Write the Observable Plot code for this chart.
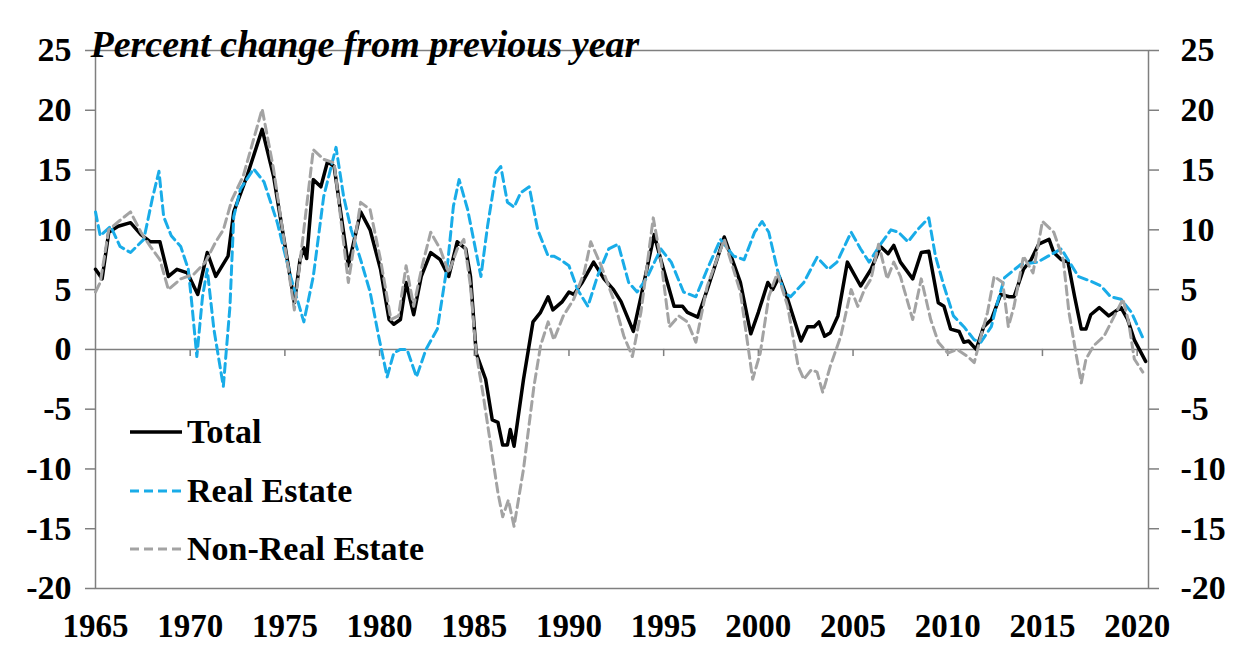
<!DOCTYPE html>
<html>
<head>
<meta charset="utf-8">
<script src="https://cdn.jsdelivr.net/npm/d3@7"></script>
<script src="https://cdn.jsdelivr.net/npm/@observablehq/plot@0.6"></script>
<style>
  html, body { margin: 0; padding: 0; background: #fff; }
  #wrap { position: relative; width: 1234px; height: 648px; font-family: "Liberation Serif", "Times New Roman", serif; }
  #legend { position: absolute; left: 130px; top: 403px; font-weight: bold; font-size: 34px; color: #000; }
  .row { display: flex; align-items: center; height: 58.5px; }
  .row span { margin-left: 5px; }
</style>
</head>
<body>
<div id="wrap"><div id="legend"></div></div>
<script>
// ---- Data ----
const titleText = "Percent change from previous year";
const seriesNames = ["Total", "Real Estate", "Non-Real Estate"];
const seriesColors = ["#000000", "#19ACE8", "#A3A3A3"];
const yTicks = [-20, -15, -10, -5, 0, 5, 10, 15, 20, 25];
const xTicks = [1965, 1970, 1975, 1980, 1985, 1990, 1995, 2000, 2005, 2010, 2015, 2020];
const xDomain = [1965, 2020.6];

const totalYears = [1965.0,1965.35,1965.7,1966.2,1966.85,1967.4,1967.9,1968.4,1968.85,1969.3,1969.85,1970.4,1970.9,1971.35,1972.0,1972.3,1973.0,1973.8,1974.4,1974.95,1975.5,1975.8,1976.0,1976.15,1976.5,1976.9,1977.25,1977.6,1978.35,1979.0,1979.5,1980.05,1980.5,1980.75,1981.1,1981.4,1981.8,1982.2,1982.7,1983.2,1983.65,1984.1,1984.55,1984.8,1985.1,1985.6,1985.95,1986.25,1986.5,1986.75,1986.9,1987.1,1987.6,1988.1,1988.5,1988.9,1989.15,1989.65,1990.0,1990.25,1990.7,1991.3,1991.85,1992.35,1992.75,1993.4,1993.8,1994.5,1994.85,1995.55,1996.0,1996.25,1996.8,1997.3,1998.2,1999.05,1999.6,2000.0,2000.5,2000.75,2001.1,2001.55,2002.25,2002.6,2002.95,2003.2,2003.5,2003.8,2004.2,2004.7,2005.4,2005.95,2006.45,2006.85,2007.15,2007.5,2008.15,2008.6,2009.0,2009.5,2009.8,2010.15,2010.6,2010.85,2011.1,2011.5,2011.9,2012.3,2012.8,2013.25,2013.5,2014.0,2014.4,2014.8,2015.35,2015.6,2016.0,2016.35,2016.7,2017.05,2017.3,2017.55,2018.0,2018.5,2019.15,2019.5,2019.85,2020.45];
const totalValues = [6.7,5.9,9.8,10.3,10.6,9.6,9.0,9.0,6.1,6.7,6.4,4.6,8.1,6.1,7.8,11.5,14.5,18.4,14.5,9.2,3.9,7.5,8.5,7.6,14.2,13.6,15.7,15.3,7.0,11.5,10.0,6.7,2.5,2.1,2.5,5.6,2.9,6.1,8.1,7.5,6.1,9.0,8.4,6.1,-0.3,-2.5,-5.9,-6.1,-8.0,-8.0,-6.7,-8.1,-2.5,2.3,3.1,4.4,3.3,4.0,4.8,4.6,5.6,7.3,5.9,5.0,4.0,1.5,4.4,9.6,7.5,3.6,3.6,3.1,2.7,5.0,9.4,5.6,1.3,3.1,5.6,5.0,6.1,4.2,0.7,1.9,1.9,2.3,1.1,1.4,2.8,7.3,5.3,6.7,8.6,8.0,8.7,7.3,5.9,8.1,8.2,3.9,3.6,1.7,1.5,0.6,0.7,0.0,1.9,2.5,4.6,4.4,4.4,6.7,7.5,8.8,9.2,8.1,7.5,7.3,4.4,1.7,1.7,2.9,3.5,2.8,3.5,2.5,0.8,-1.0];

const realYears = [1965.0,1965.25,1965.8,1966.3,1966.85,1967.55,1968.0,1968.35,1968.6,1969.0,1969.5,1969.9,1970.1,1970.35,1970.65,1970.9,1971.25,1971.75,1972.1,1972.3,1972.65,1973.35,1973.9,1974.6,1975.3,1976.0,1976.5,1977.05,1977.7,1978.1,1978.5,1979.0,1979.5,1979.95,1980.4,1980.75,1981.1,1981.45,1981.95,1982.45,1983.05,1983.6,1983.9,1984.2,1984.65,1985.1,1985.35,1985.7,1986.15,1986.4,1986.75,1987.1,1987.45,1987.9,1988.35,1988.9,1989.2,1989.55,1990.0,1990.45,1991.0,1991.5,1992.1,1992.6,1993.15,1993.6,1994.15,1994.85,1995.4,1996.05,1996.7,1997.3,1998.0,1998.7,1999.25,1999.8,2000.2,2000.55,2001.0,2001.35,2001.7,2002.4,2003.1,2003.7,2004.15,2004.9,2005.4,2005.85,2006.45,2007.0,2007.4,2007.9,2008.4,2009.0,2009.35,2009.8,2010.3,2010.85,2011.4,2011.75,2012.3,2012.55,2013.0,2013.85,2014.75,2015.3,2016.0,2016.35,2016.9,2017.55,2018.1,2018.6,2019.15,2019.7,2020.35];
const realValues = [11.5,9.5,10.3,8.6,8.1,9.2,12.6,14.9,11.1,9.5,8.6,6.7,3.6,-0.6,4.4,6.7,1.7,-3.1,3.6,11.1,13.4,15.1,14.0,10.6,6.1,2.3,6.1,12.8,16.9,12.8,10.0,7.5,4.8,1.1,-2.3,-0.3,0.0,0.0,-2.3,0.0,1.7,7.3,12.0,14.2,11.7,8.1,6.1,10.3,14.8,15.3,12.3,11.9,13.1,13.6,10.0,7.8,7.8,7.5,7.0,5.0,3.6,6.1,8.4,8.8,5.6,4.8,6.1,8.4,7.3,4.8,4.4,6.7,9.2,7.8,7.5,9.8,10.7,9.8,6.7,4.8,4.4,5.6,7.7,6.7,7.3,9.8,8.4,7.3,8.8,10.0,9.8,9.0,10.0,11.0,7.8,5.3,2.8,1.9,0.8,0.6,1.9,3.5,6.0,7.1,7.3,7.8,8.4,7.5,6.1,5.7,5.3,4.4,4.2,3.1,0.8];

const nonRealYears = [1965.0,1965.25,1965.7,1966.3,1966.85,1967.4,1967.9,1968.4,1968.85,1969.5,1970.2,1970.8,1971.35,1971.75,1972.2,1972.8,1973.8,1974.4,1975.5,1976.0,1976.5,1977.05,1977.6,1978.35,1979.0,1979.5,1980.05,1980.6,1981.0,1981.4,1981.8,1982.25,1982.7,1983.2,1983.65,1984.1,1984.45,1984.8,1985.1,1985.45,1985.8,1986.25,1986.5,1986.8,1987.1,1987.6,1988.15,1988.5,1988.9,1989.2,1989.7,1990.25,1990.8,1991.15,1991.7,1992.35,1992.9,1993.35,1993.8,1994.45,1994.85,1995.3,1995.8,1996.25,1996.7,1997.3,1998.2,1999.05,1999.7,2000.1,2000.55,2001.0,2001.55,2002.1,2002.4,2002.8,2003.1,2003.4,2003.8,2004.35,2004.9,2005.25,2005.6,2005.95,2006.35,2006.8,2007.15,2007.5,2008.15,2008.6,2009.1,2009.5,2010.0,2010.5,2011.05,2011.4,2011.75,2012.1,2012.45,2012.9,2013.2,2013.5,2014.0,2014.5,2015.0,2015.6,2016.1,2016.4,2016.8,2017.05,2017.3,2017.7,2018.25,2018.8,2019.25,2019.55,2019.85,2020.3];
const nonRealValues = [4.8,5.6,10.0,10.8,11.5,9.8,8.6,7.5,5.0,5.9,6.3,7.3,9.0,10.0,12.5,14.5,20.1,15.1,3.3,10.0,16.7,15.9,15.6,5.6,12.3,11.7,7.5,2.5,2.8,7.0,3.6,7.0,9.8,8.4,6.4,8.4,9.2,5.3,-0.3,-3.6,-7.3,-12.0,-14.0,-12.6,-14.8,-10.0,-3.1,0.3,2.3,0.8,2.8,4.2,6.4,9.0,7.0,4.2,1.1,-0.6,3.1,11.0,7.5,1.9,2.8,2.3,0.6,5.3,9.2,4.8,-2.5,-0.3,4.4,6.4,3.6,-1.4,-2.5,-1.7,-1.9,-3.6,-1.4,1.1,5.0,3.6,5.0,5.9,8.8,5.9,7.3,6.1,2.5,5.9,2.5,0.6,-0.3,0.0,-0.6,-1.1,1.1,3.1,6.1,5.6,1.9,3.6,7.8,6.4,10.7,9.8,7.5,3.1,-0.6,-2.8,-0.8,0.3,1.1,2.8,4.2,2.3,-0.8,-1.9];

// ---- Build tables ----
const toRows = (xs, vs) => xs.map((x, i) => ({x, v: vs[i]}));
const total = toRows(totalYears, totalValues);
const real = toRows(realYears, realValues);
const nonReal = toRows(nonRealYears, nonRealValues);
const minorTicks = xTicks.filter(t => t > xDomain[0] && t < xDomain[1]);

const FONT = "Liberation Serif, Times New Roman, serif";
const AXIS = "#7f7f7f";

const chart = Plot.plot({
  width: 1234,
  height: 648,
  marginTop: 50,
  marginBottom: 60,
  marginLeft: 95,
  marginRight: 86,
  style: {fontFamily: FONT, background: "#fff", color: "#000"},
  x: {domain: xDomain, axis: null, label: null},
  y: {domain: [-20, 25], axis: null, label: null},
  marks: [
    Plot.frame({stroke: AXIS, strokeWidth: 1.5}),
    Plot.ruleY([0], {stroke: AXIS, strokeWidth: 1.5}),
    Plot.ruleX(minorTicks, {y1: 0, y2: -0.6, stroke: AXIS, strokeWidth: 1.5}),
    Plot.axisY(yTicks, {anchor: "left", label: null, tickSize: 10, tickPadding: 14, stroke: AXIS, strokeWidth: 1.5, fill: "#000",
      fontSize: 34, fontWeight: "bold", tickFormat: d => String(d)}),
    Plot.axisY(yTicks, {anchor: "right", label: null, tickSize: 10, tickPadding: 22, stroke: AXIS, strokeWidth: 1.5, fill: "#000",
      fontSize: 34, fontWeight: "bold", tickFormat: d => String(d)}),
    Plot.axisX(xTicks, {anchor: "bottom", label: null, tickSize: 0, tickPadding: 25, fill: "#000",
      fontSize: 33, fontWeight: "bold", tickFormat: d => String(d)}),
    Plot.line(total, {x: "x", y: "v", stroke: seriesColors[0], strokeWidth: 3.5, strokeLinejoin: "round"}),
    Plot.line(real, {x: "x", y: "v", stroke: seriesColors[1], strokeWidth: 3, strokeDasharray: "9,5"}),
    Plot.line(nonReal, {x: "x", y: "v", stroke: seriesColors[2], strokeWidth: 3, strokeDasharray: "9,5"}),
    Plot.text([titleText], {frameAnchor: "top-left", dx: -5, dy: -20, textAnchor: "start",
      fontSize: 38, fontWeight: "bold", fontStyle: "italic", fill: "#000"})
  ]
});

const wrap = document.getElementById("wrap");
wrap.insertBefore(chart, wrap.firstChild);

// ---- Legend ----
const legend = document.getElementById("legend");
seriesNames.forEach((name, i) => {
  const row = document.createElement("div");
  row.className = "row";
  const dash = i === 0 ? "" : 'stroke-dasharray="9,5"';
  row.innerHTML = `<svg width="52" height="10"><line x1="0" y1="5" x2="52" y2="5" stroke="${seriesColors[i]}" stroke-width="${i === 0 ? 3.5 : 3}" ${dash}/></svg><span>${name}</span>`;
  legend.appendChild(row);
});
</script>
</body>
</html>
